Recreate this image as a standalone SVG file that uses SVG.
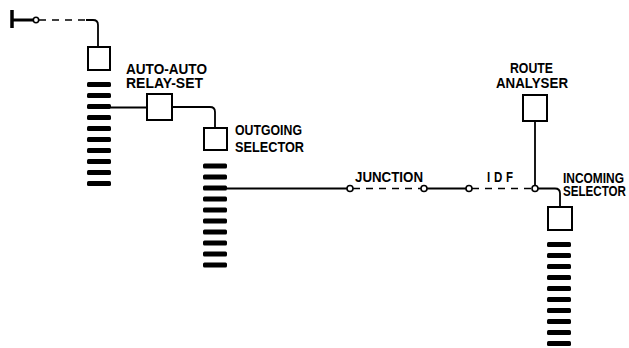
<svg xmlns="http://www.w3.org/2000/svg" width="629" height="348" viewBox="0 0 629 348">
<style>
.box{fill:#fff;stroke:#000;stroke-width:2}
.bar{fill:#000}
.ln{fill:none;stroke:#000;stroke-width:1.8}
.dash{fill:none;stroke:#000;stroke-width:1.6;stroke-dasharray:7 6}
.term{fill:#fff;stroke:#000;stroke-width:1.6}
.lbl{font-family:"Liberation Sans","Arial",sans-serif;font-weight:bold;font-size:11.5px;fill:#000}
</style>
<defs>
<g id="bank">
<rect class="bar" x="0" y="0" width="24" height="5" rx="1.5"/>
<rect class="bar" x="0" y="11" width="24" height="5" rx="1.5"/>
<rect class="bar" x="0" y="22" width="24" height="5" rx="1.5"/>
<rect class="bar" x="0" y="33" width="24" height="5" rx="1.5"/>
<rect class="bar" x="0" y="44" width="24" height="5" rx="1.5"/>
<rect class="bar" x="0" y="55" width="24" height="5" rx="1.5"/>
<rect class="bar" x="0" y="66" width="24" height="5" rx="1.5"/>
<rect class="bar" x="0" y="77" width="24" height="5" rx="1.5"/>
<rect class="bar" x="0" y="88" width="24" height="5" rx="1.5"/>
<rect class="bar" x="0" y="99" width="24" height="5" rx="1.5"/>
</g>
</defs>

<g id="connectors">
<line x1="12" y1="10" x2="12" y2="28" stroke="#000" stroke-width="3.5"/>
<line x1="12" y1="20" x2="33" y2="20" stroke="#000" stroke-width="3"/>
<line class="dash" x1="39" y1="20" x2="86" y2="20"/>
<path class="ln" d="M86 20 H93 Q98 20 98 25 V47"/>
<line class="ln" x1="111" y1="107.5" x2="147" y2="107.5"/>
<path class="ln" d="M172 107 H210 Q215 107 215 112 V128"/>
<line class="ln" x1="227" y1="188.5" x2="347" y2="188.5"/>
<line class="dash" x1="353" y1="188.5" x2="421" y2="188.5"/>
<line class="ln" x1="427" y1="188.5" x2="466" y2="188.5"/>
<line class="dash" x1="472" y1="188.5" x2="532" y2="188.5"/>
<path class="ln" d="M538 188.5 H555 Q560 188.5 560 193.5 V207"/>
<line class="ln" x1="535" y1="121" x2="535" y2="185.5"/>
<circle class="term" cx="36" cy="20" r="2.7"/>
<circle class="term" cx="350" cy="188.5" r="3"/>
<circle class="term" cx="424" cy="188.5" r="3"/>
<circle class="term" cx="469" cy="188.5" r="3"/>
<circle class="term" cx="535" cy="188.5" r="3"/>
</g>

<g id="first-selector">
<rect class="box" x="88" y="47" width="22" height="23"/>
<use href="#bank" x="87" y="82"/>
</g>

<g id="relay-set">
<rect class="box" x="147" y="94" width="25" height="26"/>
<text class="lbl" transform="translate(126 74) scale(1 1.3)" textLength="81" lengthAdjust="spacingAndGlyphs">AUTO-AUTO</text>
<text class="lbl" transform="translate(126 88) scale(1 1.3)" textLength="77" lengthAdjust="spacingAndGlyphs">RELAY-SET</text>
</g>

<g id="outgoing-selector">
<rect class="box" x="204" y="128" width="23" height="22"/>
<use href="#bank" x="203" y="163.5"/>
<text class="lbl" transform="translate(235 135) scale(1 1.3)" textLength="67" lengthAdjust="spacingAndGlyphs">OUTGOING</text>
<text class="lbl" transform="translate(235 152) scale(1 1.3)" textLength="69" lengthAdjust="spacingAndGlyphs">SELECTOR</text>
</g>

<g id="junction">
<text class="lbl" transform="translate(355 182) scale(1 1.3)" textLength="68" lengthAdjust="spacingAndGlyphs">JUNCTION</text>
</g>

<g id="idf">
<text class="lbl" transform="translate(487 182) scale(1 1.3)" textLength="26" lengthAdjust="spacing">IDF</text>
</g>

<g id="route-analyser">
<rect class="box" x="523" y="95" width="24" height="26"/>
<text class="lbl" transform="translate(510 73) scale(1 1.3)" textLength="43" lengthAdjust="spacingAndGlyphs">ROUTE</text>
<text class="lbl" transform="translate(496 88) scale(1 1.3)" textLength="72" lengthAdjust="spacingAndGlyphs">ANALYSER</text>
</g>

<g id="incoming-selector">
<rect class="box" x="548" y="207" width="24" height="23"/>
<use href="#bank" x="547" y="242"/>
<text class="lbl" transform="translate(563 183) scale(1 1.3)" textLength="61" lengthAdjust="spacingAndGlyphs">INCOMING</text>
<text class="lbl" transform="translate(563 196) scale(1 1.3)" textLength="63" lengthAdjust="spacingAndGlyphs">SELECTOR</text>
</g>
</svg>
